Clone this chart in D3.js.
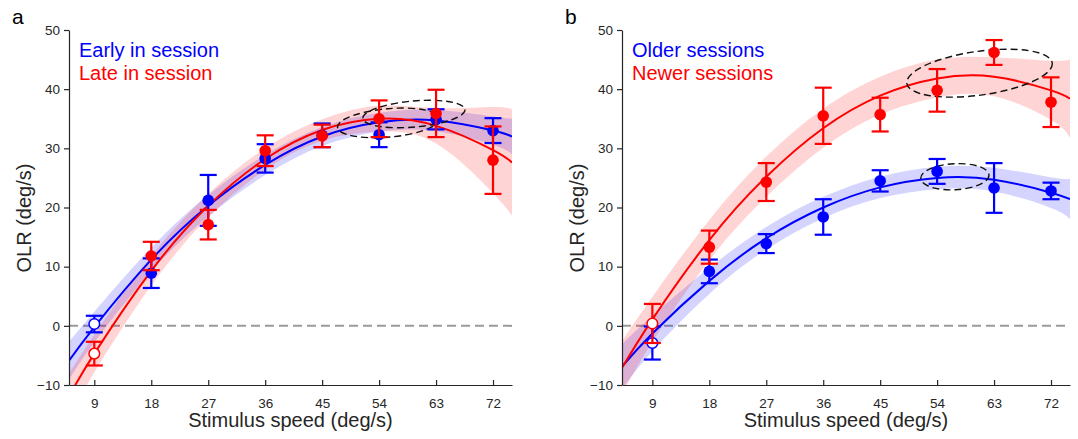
<!DOCTYPE html>
<html>
<head>
<meta charset="utf-8">
<script src="https://cdn.jsdelivr.net/npm/d3@7"></script>
<style>
    body { margin: 0; background: #fff; }
    svg { display: block; font-family: "Liberation Sans", Arial, sans-serif; }
</style>
</head>
<body>
<svg width="1078" height="439"></svg>
<script>
// Shared axis values
var speeds = [9, 18, 27, 36, 45, 54, 63, 72];
var yTicks = [-10, 0, 10, 20, 30, 40, 50];

// Panel a: early vs late in session
var aEarlyMean = [0.3, 8.9, 21.2, 28.3, 32.2, 32.3, 34.9, 33.0];
var aEarlyErr = [1.4, 2.5, 4.3, 2.4, 2.0, 2.1, 1.7, 2.1];
var aLateMean = [-4.7, 11.8, 17.1, 29.6, 32.1, 35.0, 35.9, 28.0];
var aLateErr = [2.0, 2.4, 2.5, 2.6, 1.9, 3.1, 4.0, 5.7];

var aFitX = [5, 9, 18, 27, 36, 45, 54, 63, 72, 75];
var aEarlyFit = [-5.9, -0.2, 11.2, 20.3, 27.2, 32.0, 34.4, 34.7, 33.0, 32.0];
var aEarlyBand = [3.2, 2.6, 2.0, 1.8, 1.7, 1.6, 1.6, 1.8, 2.4, 3.0];
var aLateFit = [-11.9, -4.7, 9.3, 20.3, 28.2, 33.1, 35.0, 33.8, 29.7, 27.6];
var aLateBand = [3.8, 3.2, 2.5, 2.0, 1.8, 1.8, 2.2, 3.0, 7.3, 9.0];

// peak ellipses: [cx, cy, rx, ry, angle]
var aEllipses = [[55.5, 34.3, 8.1, 2.4, -5], [59.5, 35.8, 8.1, 2.2, -5]];

// Panel b: older vs newer sessions
var bOlderMean = [-2.9, 9.2, 13.9, 18.4, 24.5, 26.1, 23.3, 22.8];
var bOlderErr = [2.8, 2.0, 1.6, 3.0, 1.8, 2.1, 4.2, 1.4];
var bNewerMean = [0.4, 13.3, 24.3, 35.5, 35.7, 39.8, 46.2, 37.8];
var bNewerErr = [3.3, 2.8, 3.2, 4.75, 2.85, 3.6, 2.1, 4.2];

var bFitX = [4.2, 9, 18, 27, 36, 45, 54, 63, 72, 75];
var bOlderFit = [-6.9, -1.3, 7.6, 14.8, 20.0, 23.4, 25.0, 24.7, 22.5, 21.4];
var bOlderBand = [3.8, 3.0, 2.2, 1.9, 1.8, 1.8, 1.9, 2.0, 2.6, 3.4];
var bNewerFit = [-7.1, 1.1, 14.5, 25.2, 33.4, 38.9, 41.8, 42.1, 39.8, 38.4];
var bNewerBand = [4.5, 3.8, 3.4, 3.4, 3.3, 3.2, 3.2, 3.3, 5.0, 6.6];

var bEllipses = [[56.8, 25.2, 5.4, 2.2, -3], [60.7, 42.7, 11.6, 3.7, -8]];

var blue = "#0000ff", red = "#ff0000", axisColor = "#262626";
var svg = d3.select("svg");

function zip(xs, ys, hw) {
    return xs.map(function (x, i) { return { x: x, y: ys[i], hw: hw ? hw[i] : 0 }; });
}

function drawPanel(opt) {
    var x = d3.scaleLinear().domain(opt.xDomain).range(opt.xRange);
    var y = d3.scaleLinear().domain([-10, 50]).range([385, 30]);
    var g = svg.append("g");

    g.append("clipPath").attr("id", "clip-" + opt.id)
        .append("rect")
        .attr("x", opt.xRange[0]).attr("y", 30)
        .attr("width", opt.xRange[1] - opt.xRange[0]).attr("height", 355);

    var plot = g.append("g").attr("clip-path", "url(#clip-" + opt.id + ")");

    // zero reference line
    plot.append("line")
        .attr("x1", opt.xRange[0]).attr("x2", opt.xRange[1])
        .attr("y1", y(0)).attr("y2", y(0))
        .attr("stroke", "#9a9a9a").attr("stroke-width", 2)
        .attr("stroke-dasharray", "9,5");

    var area = d3.area()
        .x(function (d) { return x(d.x); })
        .y0(function (d) { return y(d.y - d.hw); })
        .y1(function (d) { return y(d.y + d.hw); })
        .curve(d3.curveNatural);
    var line = d3.line()
        .x(function (d) { return x(d.x); })
        .y(function (d) { return y(d.y); })
        .curve(d3.curveNatural);

    opt.series.forEach(function (s) {
        plot.append("path")
            .datum(zip(opt.fitX, s.fit, s.band))
            .attr("d", area)
            .attr("fill", s.color).attr("fill-opacity", 0.17);
    });
    opt.series.forEach(function (s) {
        plot.append("path")
            .datum(zip(opt.fitX, s.fit))
            .attr("d", line)
            .attr("fill", "none").attr("stroke", s.color).attr("stroke-width", 2);
    });

    // peak ellipses
    opt.ellipses.forEach(function (e) {
        var rx = x(e[0] + e[2]) - x(e[0]);
        var ry = y(e[1]) - y(e[1] + e[3]);
        plot.append("ellipse")
            .attr("transform", "translate(" + x(e[0]) + "," + y(e[1]) + ") rotate(" + e[4] + ")")
            .attr("rx", rx).attr("ry", ry)
            .attr("fill", "none").attr("stroke", "#111")
            .attr("stroke-width", 1.4).attr("stroke-dasharray", "7,4");
    });

    // error bars and means
    opt.series.forEach(function (s) {
        var pts = speeds.map(function (v, i) { return { x: v, m: s.mean[i], e: s.err[i], open: i === 0 }; });
        var eb = plot.append("g").attr("stroke", s.color).attr("stroke-width", 2.2);
        pts.forEach(function (d) {
            var cx = x(d.x);
            eb.append("line").attr("x1", cx).attr("x2", cx).attr("y1", y(d.m - d.e)).attr("y2", y(d.m + d.e));
            eb.append("line").attr("x1", cx - 8.5).attr("x2", cx + 8.5).attr("y1", y(d.m - d.e)).attr("y2", y(d.m - d.e));
            eb.append("line").attr("x1", cx - 8.5).attr("x2", cx + 8.5).attr("y1", y(d.m + d.e)).attr("y2", y(d.m + d.e));
        });
        plot.selectAll(null)
            .data(pts)
            .enter()
            .append("circle")
            .attr("cx", function (d) { return x(d.x); })
            .attr("cy", function (d) { return y(d.m); })
            .attr("r", function (d) { return d.open ? 5.3 : 5.8; })
            .attr("fill", function (d) { return d.open ? "#fff" : s.color; })
            .attr("stroke", s.color)
            .attr("stroke-width", function (d) { return d.open ? 1.5 : 0; });
    });

    // axes
    var xAxis = g.append("g")
        .attr("transform", "translate(0,385)")
        .call(d3.axisBottom(x).tickValues(speeds).tickSize(-5).tickPadding(13).tickSizeOuter(0));
    var yAxis = g.append("g")
        .attr("transform", "translate(" + opt.xRange[0] + ",0)")
        .call(d3.axisLeft(y).tickValues(yTicks).tickSize(5).tickPadding(4).tickSizeOuter(0));
    [xAxis, yAxis].forEach(function (ax) {
        ax.select(".domain").attr("stroke", axisColor).attr("stroke-width", 1.2);
        ax.selectAll(".tick line").attr("stroke", axisColor).attr("stroke-width", 1.2);
        ax.selectAll(".tick text").attr("fill", axisColor)
            .style("font-size", "13.5px").style("font-family", "Liberation Sans, Arial, sans-serif");
    });

    // titles
    g.append("text")
        .attr("x", (opt.xRange[0] + opt.xRange[1]) / 2).attr("y", 427)
        .attr("text-anchor", "middle").attr("fill", axisColor)
        .style("font-size", "20px")
        .text("Stimulus speed (deg/s)");
    g.append("text")
        .attr("transform", "translate(" + (opt.xRange[0] - 38) + ",218) rotate(-90)")
        .attr("text-anchor", "middle").attr("fill", axisColor)
        .style("font-size", "20px")
        .text("OLR (deg/s)");
    g.append("text")
        .attr("x", opt.xRange[0] - 57).attr("y", 24)
        .attr("fill", "#000")
        .style("font-size", "21px")
        .text(opt.id);

    // legend
    opt.series.forEach(function (s, i) {
        g.append("text")
            .attr("x", opt.xRange[0] + 10).attr("y", 57 + i * 23)
            .attr("fill", s.color)
            .style("font-size", "20px")
            .text(s.name);
    });
}

drawPanel({
    id: "a",
    xDomain: [5, 75], xRange: [69, 512],
    fitX: aFitX,
    ellipses: aEllipses,
    series: [
        { name: "Early in session", color: blue, mean: aEarlyMean, err: aEarlyErr, fit: aEarlyFit, band: aEarlyBand },
        { name: "Late in session", color: red, mean: aLateMean, err: aLateErr, fit: aLateFit, band: aLateBand }
    ]
});

drawPanel({
    id: "b",
    xDomain: [4.2, 75], xRange: [622, 1070],
    fitX: bFitX,
    ellipses: bEllipses,
    series: [
        { name: "Older sessions", color: blue, mean: bOlderMean, err: bOlderErr, fit: bOlderFit, band: bOlderBand },
        { name: "Newer sessions", color: red, mean: bNewerMean, err: bNewerErr, fit: bNewerFit, band: bNewerBand }
    ]
});
</script>
</body>
</html>
